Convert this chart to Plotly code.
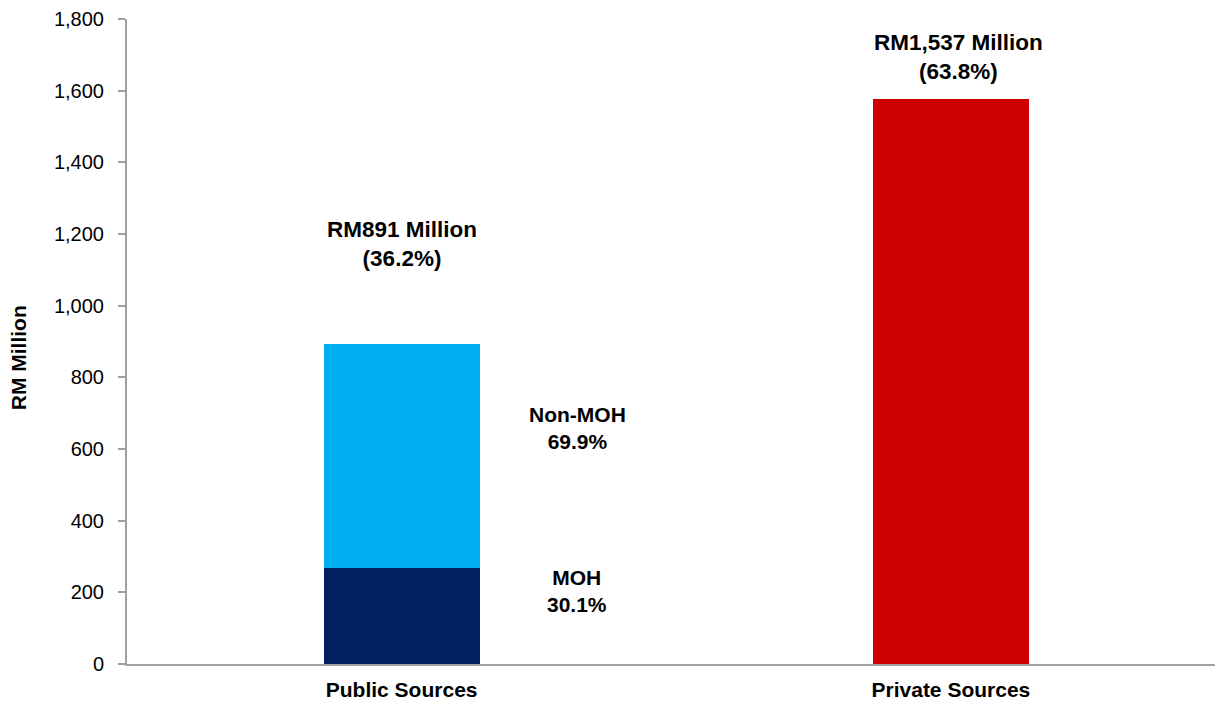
import plotly.graph_objects as go

categories = ["Public Sources", "Private Sources"]
moh_values = [267, None]
non_moh_values = [626, None]
private_values = [None, 1577]

total_labels = ["RM891 Million<br>(36.2%)", "RM1,537 Million<br>(63.8%)"]
segment_labels = ["Non-MOH<br>69.9%", "MOH<br>30.1%"]
y_ticks = [0, 200, 400, 600, 800, 1000, 1200, 1400, 1600, 1800]
y_title = "RM Million"

FONT = "Liberation Sans, Arial, sans-serif"
AXIS_GREY = "#A0A0A0"

fig = go.Figure()
fig.add_trace(go.Bar(x=categories, y=moh_values, marker_color="#002060", name="MOH"))
fig.add_trace(go.Bar(x=categories, y=non_moh_values, marker_color="#00B0F0", name="Non-MOH"))
fig.add_trace(go.Bar(x=categories, y=private_values, marker_color="#CC0000", name="Private"))
fig.update_traces(marker_line_width=0)

big_font = dict(family=FONT, size=22.5, color="black", weight="bold")
seg_font = dict(family=FONT, size=21, color="black", weight="bold")
fig.add_annotation(x=0, y=1171, xref="x", yref="y", text=total_labels[0],
                   showarrow=False, font=big_font, yanchor="middle")
fig.add_annotation(x=1.014, y=1693, xref="x", yref="y", text=total_labels[1],
                   showarrow=False, font=big_font, yanchor="middle")
fig.add_annotation(x=0.32, y=659, xref="x", yref="y", text=segment_labels[0],
                   showarrow=False, font=seg_font, yanchor="middle")
fig.add_annotation(x=0.32, y=205, xref="x", yref="y", text=segment_labels[1],
                   showarrow=False, font=seg_font, yanchor="middle")
fig.add_annotation(x=0, y=0.474, xref="paper", yref="paper", text=y_title,
                   showarrow=False, textangle=-90, xanchor="center", yanchor="middle",
                   xshift=-109,
                   font=dict(family=FONT, size=21, color="black", weight="bold"))

fig.update_layout(
    width=1223, height=702,
    margin=dict(l=119, r=0, t=11, b=46),
    barmode="stack",
    bargap=0.716,
    showlegend=False,
    plot_bgcolor="white",
    paper_bgcolor="white",
    font=dict(family=FONT, color="black"),
)
fig.update_xaxes(
    range=[-0.5, 1.51],
    showline=True, linecolor=AXIS_GREY, linewidth=2,
    ticks="", showgrid=False, automargin=False,
    tickfont=dict(family=FONT, size=21, color="black", weight="bold"),
    ticklabelstandoff=6,
)
fig.update_yaxes(
    range=[0, 1800], tickvals=y_ticks, tickformat=",",
    showline=True, linecolor=AXIS_GREY, linewidth=2,
    ticks="outside", ticklen=7, tickwidth=1.5, tickcolor=AXIS_GREY,
    showgrid=False, zeroline=False, automargin=False,
    tickfont=dict(family=FONT, size=20, color="black"),
    ticklabelstandoff=10,
)

fig.write_html("out.html")
